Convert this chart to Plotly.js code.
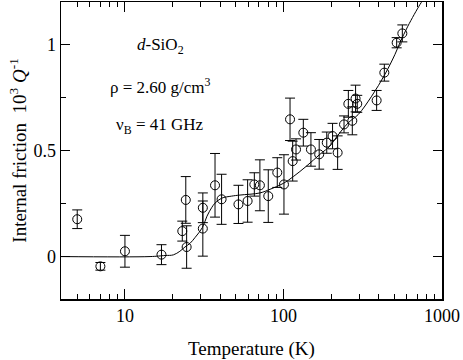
<!DOCTYPE html>
<html>
<head>
<meta charset="utf-8">
<script src="https://cdn.plot.ly/plotly-3.0.1.min.js"></script>
<style>
html,body{margin:0;padding:0;background:#fff;}
#chart{width:463px;height:360px;}
</style>
</head>
<body>
<div id="chart"></div>
<script>
// Measured points (temperature in K, internal friction 10^3 Q^-1, error)
const tempK = [5.0, 7.0, 10.0, 17.0, 23.0, 24.2, 24.5, 31, 31, 37, 40.7, 52, 59.4, 65.5, 71, 80.2, 91.4, 100.7, 110, 114.3, 120, 133.4, 149, 168, 187.5, 204, 219.6, 241, 256.6, 271.8, 285, 292, 387, 432.7, 517.6, 562];
const friction = [0.176, -0.046, 0.025, 0.009, 0.12, 0.267, 0.045, 0.23, 0.132, 0.336, 0.27, 0.246, 0.262, 0.34, 0.336, 0.285, 0.396, 0.34, 0.647, 0.45, 0.505, 0.584, 0.505, 0.482, 0.537, 0.568, 0.49, 0.623, 0.72, 0.64, 0.745, 0.72, 0.736, 0.867, 1.008, 1.052];
const frictionErr = [0.044, 0.018, 0.075, 0.047, 0.047, 0.11, 0.10, 0.07, 0.13, 0.15, 0.118, 0.09, 0.1, 0.055, 0.12, 0.124, 0.07, 0.14, 0.1, 0.094, 0.05, 0.063, 0.079, 0.07, 0.05, 0.06, 0.079, 0.04, 0.063, 0.066, 0.063, 0.04, 0.047, 0.04, 0.024, 0.04];

// Fit curve
const fitT = [3.95, 14.4, 17.9, 20.2, 22.2, 23.9, 25.7, 27.7, 30.8, 32.9, 35.2, 37.0, 40.7, 47.1, 53.2, 71.1, 82.2, 99.8, 115.4, 140, 169.8, 196.4, 211, 256.6, 296.5, 360, 436.5, 505, 543, 609, 726, 760];
const fitQ = [0, 0, 0.005, 0.008, 0.025, 0.045, 0.062, 0.09, 0.137, 0.19, 0.23, 0.252, 0.275, 0.285, 0.29, 0.30, 0.317, 0.345, 0.377, 0.427, 0.482, 0.521, 0.553, 0.631, 0.67, 0.756, 0.859, 0.953, 1.008, 1.086, 1.188, 1.21];

const xTickVals = [10, 100, 1000];
const xTickText = ['10', '100', '1000'];
const yTickVals = [0, 0.5, 1];
const yTickText = ['0', '0.5', '1'];

const serif = "'Liberation Serif', 'DejaVu Serif', serif";

const traces = [
  {
    x: fitT, y: fitQ, type: 'scatter', mode: 'lines',
    line: {color: 'black', width: 1, shape: 'spline'},
    hoverinfo: 'skip', showlegend: false
  },
  {
    x: tempK, y: friction, type: 'scatter', mode: 'markers',
    marker: {symbol: 'circle-open', size: 9, color: 'black', line: {width: 1, color: 'black'}},
    error_y: {type: 'data', array: frictionErr, visible: true, color: 'black', thickness: 1, width: 5},
    showlegend: false
  }
];

const ann = (x, y, text, size, extra) => Object.assign({
  xref: 'paper', yref: 'paper', x: x, y: y, text: text, showarrow: false,
  xanchor: 'center', yanchor: 'middle',
  font: {family: serif, size: size, color: 'black'}
}, extra || {});

const layout = {
  width: 463, height: 360,
  margin: {l: 61, r: 21, t: 2, b: 61},
  paper_bgcolor: 'white', plot_bgcolor: 'white',
  font: {family: serif, size: 18, color: 'black'},
  showlegend: false,
  xaxis: {
    type: 'log', range: [Math.log10(3.95), 3],
    tickmode: 'array', tickvals: xTickVals, ticktext: xTickText,
    ticks: 'inside', ticklen: 10, tickwidth: 1, tickcolor: 'black',
    minor: {dtick: 'D1', ticks: 'inside', ticklen: 5, tickwidth: 1, tickcolor: 'black', showgrid: false},
    showline: true, linecolor: 'black', linewidth: 1.5, mirror: 'allticks',
    showgrid: false, zeroline: false,
    tickfont: {family: serif, size: 18, color: 'black'}
  },
  yaxis: {
    range: [-0.2, 1.2],
    tickmode: 'array', tickvals: yTickVals, ticktext: yTickText,
    ticks: 'inside', ticklen: 9, tickwidth: 1, tickcolor: 'black',
    minor: {tickvals: [0.25, 0.75], ticks: 'inside', ticklen: 5, tickwidth: 1, tickcolor: 'black', showgrid: false},
    showline: true, linecolor: 'black', linewidth: 1.5, mirror: 'allticks',
    showgrid: false, zeroline: false,
    tickfont: {family: serif, size: 18, color: 'black'}
  },
  annotations: [
    ann(0.262, 0.852, '<i>d</i>-SiO<sub>2</sub>', 17),
    ann(0.260, 0.718, 'ρ = 2.60 g/cm<sup>3</sup>', 17),
    ann(0.260, 0.582, 'ν<sub>B</sub> = 41 GHz', 17),
    ann(0.501, -0.168, 'Temperature (K)', 19),
    ann(-0.115, 0.5, 'Internal friction  10<sup>3</sup> <i>Q</i><sup>-1</sup>', 19, {textangle: -90})
  ]
};

Plotly.newPlot('chart', traces, layout, {displayModeBar: false, staticPlot: true});
</script>
</body>
</html>
